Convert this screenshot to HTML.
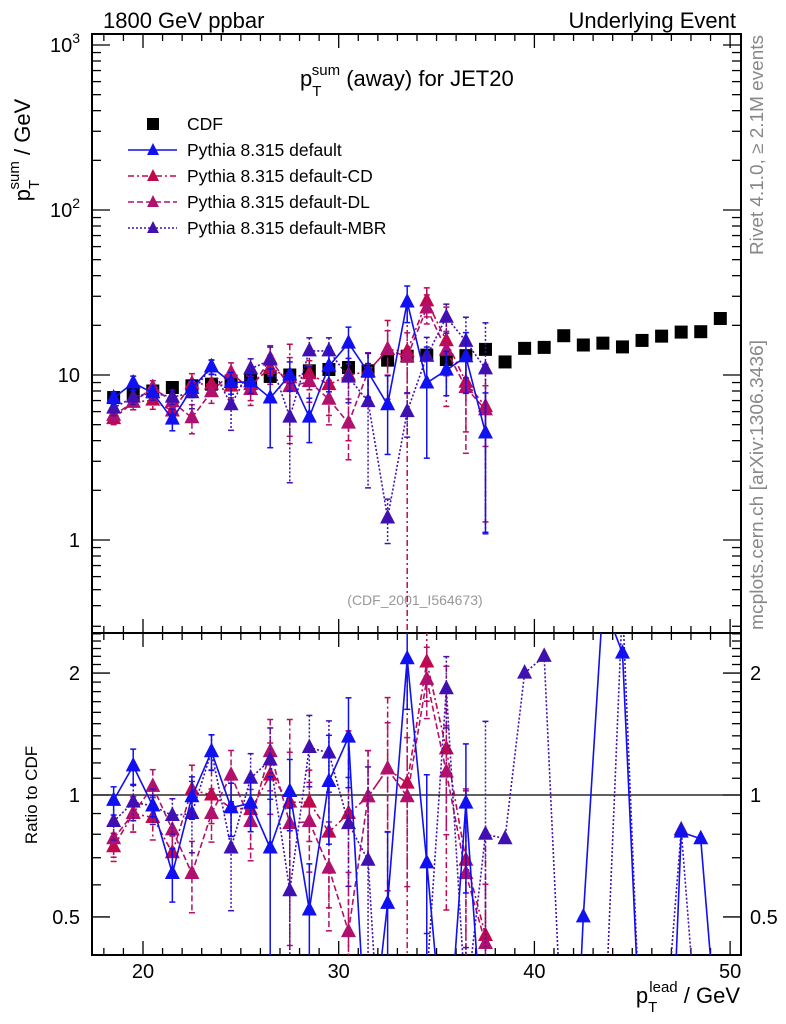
<!DOCTYPE html>
<html><head><meta charset="utf-8"><style>
html,body{margin:0;background:#fff;overflow:hidden;width:786px;height:1024px;}
svg{display:block;font-family:"Liberation Sans",sans-serif;}
</style></head><body>
<svg id="chart" width="786" height="1024" viewBox="0 0 786 1024" xmlns="http://www.w3.org/2000/svg">
<defs>
<clipPath id="clipTop"><rect x="92" y="34" width="649" height="599"/></clipPath>
<clipPath id="clipBot"><rect x="92" y="633" width="649" height="322"/></clipPath>
</defs>
<text x="103" y="28" font-size="22">1800 GeV ppbar</text>
<text x="736" y="28" font-size="22" text-anchor="end">Underlying Event</text>
<text x="300" y="86" font-size="22">p<tspan dy="10" font-size="15">T</tspan><tspan dx="-8" dy="-21" font-size="15">sum</tspan><tspan dy="11"> (away) for JET20</tspan></text>
<text transform="translate(30,150) rotate(-90)" font-size="22" text-anchor="middle">p<tspan dy="9" font-size="15">T</tspan><tspan dx="-8" dy="-20" font-size="15">sum</tspan><tspan dy="11"> / GeV</tspan></text>
<text transform="translate(37,795) rotate(-90)" font-size="17" text-anchor="middle">Ratio to CDF</text>
<text x="740" y="1003" font-size="22" text-anchor="end">p<tspan dy="9" font-size="15">T</tspan><tspan dx="-8" dy="-20" font-size="15">lead</tspan><tspan dy="11"> / GeV</tspan></text>
<text transform="translate(763,255) rotate(-90)" font-size="18" fill="#888" textLength="220" lengthAdjust="spacingAndGlyphs">Rivet 4.1.0, ≥ 2.1M events</text>
<text transform="translate(763,630) rotate(-90)" font-size="18" fill="#888" textLength="290" lengthAdjust="spacingAndGlyphs">mcplots.cern.ch [arXiv:1306.3436]</text>
<text x="415" y="605" font-size="14" fill="#999" text-anchor="middle">(CDF_2001_I564673)</text>
<g id="axes"></g>
<g id="topMarks" clip-path="url(#clipTop)"></g>
<g id="botMarks" clip-path="url(#clipBot)"></g>
<g id="legend"></g>
</svg>
<script>
const xBins=[18.5,19.5,20.5,21.5,22.5,23.5,24.5,25.5,26.5,27.5,28.5,29.5,30.5,31.5,32.5,33.5,34.5,35.5,36.5,37.5,38.5,39.5,40.5,41.5,42.5,43.5,44.5,45.5,46.5,47.5,48.5,49.5];
const cdfValues=[7.3,7.6,8.0,8.4,8.6,8.8,9.2,9.5,9.8,10.0,10.6,10.8,11.1,10.6,12.3,13.0,13.2,12.4,13.1,14.3,12.0,14.5,14.7,17.3,15.2,15.6,14.8,16.2,17.2,18.2,18.3,22.0];
const defaultTop=[7.25,8.95,7.8,5.4,8.3,11.2,9.0,9.1,7.25,10.0,5.56,11.3,15.6,10.4,6.6,27.7,8.95,10.7,12.9,4.45];
const mbrTop=[6.3,7.35,7.8,7.35,7.8,11.2,6.6,10.9,12.3,5.56,14.0,14.0,9.7,6.9,1.36,6.0,13.0,22.4,16.0,10.9];
const cdRatio=[0.745,0.9,0.88,0.72,1.03,1.0,0.93,0.92,1.12,0.96,0.96,0.81,0.90,0.99,1.16,1.07,2.13,1.3,0.69,0.45];
const dlRatio=[0.78,0.9,1.05,0.82,0.64,0.9,1.12,0.86,1.28,0.85,0.86,0.66,0.46,0.99,1.16,0.99,1.93,1.14,0.64,0.43];
const defaultRatio=[0.97,1.18,0.94,0.64,0.99,1.28,0.93,0.955,0.74,1.02,0.52,1.08,1.39,0.2,0.54,2.17,0.68,0.2,0.955,0.2,0.05,0.05,0.05,0.05,0.5,3.0,2.24,0.2,0.05,0.81,0.78,0.2];
const mbrRatio=[0.86,0.96,0.94,0.89,0.9,1.28,0.74,1.1,1.22,0.58,1.31,1.27,0.85,0.69,0.11,0.2,0.35,1.83,0.3,0.8,0.78,2.0,2.2,0.2,0.2,0.2,3.0,0.2,0.2,0.82,0.2,null];
const defaultErr=[0.08,0.1,0.06,0.15,0.12,0.1,0.15,0.15,0.5,0.2,0.3,0.3,0.25,0.3,0.5,0.25,0.65,0.3,0.4,0.75];
const cdErr=[0.08,0.1,0.12,0.1,0.15,0.15,0.15,0.2,0.2,0.6,0.2,0.35,0.6,0.3,0.5,0.99,0.2,0.6,0.5,0.8];
const dlErr=[0.1,0.1,0.1,0.1,0.2,0.15,0.15,0.2,0.2,0.5,0.25,0.3,0.4,0.3,0.3,0.4,0.2,0.3,0.6,0.4];
const mbrErr=[0.1,0.1,0.1,0.1,0.2,0.1,0.3,0.15,0.2,0.6,0.2,0.2,0.3,0.7,0.3,0.3,0.3,0.2,0.4,0.9];
const xTickLabels=[20,30,40,50];
const yTickLabels=["1","10","10²","10³"];
const ratioTickLabels=[0.5,1,2];

const NS="http://www.w3.org/2000/svg";
const L=92,R=741,T=34,M=633,B=955;
function xs(v){return 143+(v-20)*19.57;}
function ys(v){return 540-Math.log10(v)*165;}
function yr(v){return 795-Math.log10(v)*405;}
function mk(tag,attrs,parent){const e=document.createElementNS(NS,tag);for(const k in attrs)e.setAttribute(k,attrs[k]);parent.appendChild(e);return e;}
const axes=document.getElementById('axes');
const topG=document.getElementById('topMarks');
const botG=document.getElementById('botMarks');
const legG=document.getElementById('legend');

let f1=mk('rect',{x:L,y:T,width:R-L,height:M-T,fill:'none',stroke:'#000','stroke-width':2},axes);


let f2=mk('rect',{x:L,y:M,width:R-L,height:B-M,fill:'none',stroke:'#000','stroke-width':2},axes);


for(let v=18;v<=50;v++){
  const x=xs(v),big=(v%10===0);const len=big?14:7;
  for(const [y0,d] of [[T,1],[M,-1],[M,1],[B,-1]]){
    mk('line',{x1:x,x2:x,y1:y0,y2:y0+d*len,stroke:'#000','stroke-width':1.3},axes);
  }
}
xTickLabels.forEach(v=>{
  const t=mk('text',{x:xs(v),y:978,'font-size':20,'text-anchor':'middle'},axes);t.textContent=v;
  
  
});
for(let d=-1;d<=3;d++){for(let m=1;m<=9;m++){
  const v=m*Math.pow(10,d);const y=ys(v);if(y<T||y>M)continue;
  const len=m===1?18:9;
  mk('line',{x1:L,x2:L+len,y1:y,y2:y,stroke:'#000','stroke-width':1.3},axes);
  mk('line',{x1:R,x2:R-len,y1:y,y2:y,stroke:'#000','stroke-width':1.3},axes);
}}
yTickLabels.forEach((s,i)=>{
  const y=ys(Math.pow(10,i))+7;
  const t=mk('text',{x:80,y:y,'font-size':20,'text-anchor':'end'},axes);
  if(i>=2){t.textContent='10';const sp=mk('tspan',{dy:-9,'font-size':14},t);sp.textContent=String(i);}else t.textContent=s;
  
  
});
[0.4,0.5,0.6,0.7,0.8,0.9,1,1.1,1.2,1.3,1.4,1.5,1.6,1.7,1.8,1.9,2,2.1,2.2,2.3,2.4,2.5].forEach(v=>{
  const y=yr(v);if(y<M||y>B)return;const big=[0.5,1,2].includes(v);const len=big?18:9;
  mk('line',{x1:L,x2:L+len,y1:y,y2:y,stroke:'#000','stroke-width':1.3},axes);
  mk('line',{x1:R,x2:R-len,y1:y,y2:y,stroke:'#000','stroke-width':1.3},axes);
});
ratioTickLabels.forEach(v=>{
  const y=yr(v)+7;
  let t=mk('text',{x:80,y:y,'font-size':20,'text-anchor':'end'},axes);t.textContent=v;
  
  
  t=mk('text',{x:750,y:y,'font-size':20},axes);t.textContent=v;
  
  
});
let unity=mk('line',{x1:L,x2:R,y1:yr(1),y2:yr(1),stroke:'#000','stroke-width':1.3},axes);



function tri(g,x,y,c,name){
  const p=mk('polygon',{points:`${x},${y-9} ${x-7.5},${y+5.5} ${x+7.5},${y+5.5}`,fill:c},g);
  
  
}
// clip a segment to y range [lo,hi]
function clipSeg(x1,y1,x2,y2,lo,hi){
  let t0=0,t1=1;const dy=y2-y1;
  if(dy===0){if(y1<lo||y1>hi)return null;}
  else{
    let ta=(lo-y1)/dy,tb=(hi-y1)/dy;if(ta>tb){const t=ta;ta=tb;tb=t;}
    t0=Math.max(t0,ta);t1=Math.min(t1,tb);if(t0>t1)return null;
  }
  return [x1+(x2-x1)*t0,y1+dy*t0,x1+(x2-x1)*t1,y1+dy*t1];
}
function series(g,vals,errs,yfn,lo,hi,color,dash,name){
  let pts=[];
  vals.forEach((v,i)=>{if(v==null)return;pts.push([xs(xBins[i]),yfn(v)]);});
  let d='';
  for(let k=0;k+1<pts.length;k++){
    const s=clipSeg(pts[k][0],pts[k][1],pts[k+1][0],pts[k+1][1],lo-10,hi+10);
    if(s)d+=`M${s[0].toFixed(1)},${s[1].toFixed(1)}L${s[2].toFixed(1)},${s[3].toFixed(1)}`;
  }
  const pl=mk('path',{d:d||'M0,0',fill:'none',stroke:color,'stroke-width':1.6,'stroke-dasharray':dash},g);
  
  
  const cl=y=>Math.min(hi+10,Math.max(lo-10,y));
  vals.forEach((v,i)=>{
    if(v==null)return;const x=xs(xBins[i]);const y=yfn(v);
    if(errs&&errs[i]!=null){
      const e=errs[i];const y1=cl(yfn(v*(1+e))),y2=cl(yfn(Math.max(v*(1-e),1e-4)));
      if(!(y1>=hi+10||y2<=lo-10)){
        const eb=mk('line',{x1:x,x2:x,y1:y1,y2:y2,stroke:color,'stroke-width':1.5,'stroke-dasharray':dash},g);
        
        
        mk('line',{x1:x-3,x2:x+3,y1:y1,y2:y1,stroke:color,'stroke-width':1.5},g);
        mk('line',{x1:x-3,x2:x+3,y1:y2,y2:y2,stroke:color,'stroke-width':1.5},g);
      }
    }
    if(y>lo-10&&y<hi+10)tri(g,x,y,color,name+'-point');
  });
}
const C_BLUE='#1010f0',C_CD='#c0084a',C_DL='#b0106e',C_MBR='#4010b0';
const cdTop=cdRatio.map((r,i)=>r*cdfValues[i]);
const dlTop=dlRatio.map((r,i)=>r*cdfValues[i]);
cdfValues.forEach((v,i)=>{
  const s=mk('rect',{x:xs(xBins[i])-6.5,y:ys(v)-6.5,width:13,height:13,fill:'#000'},topG);
  
  
});
series(topG,cdTop,cdErr,ys,T,M,C_CD,'6 3 2 3','cd');
series(topG,dlTop,dlErr,ys,T,M,C_DL,'6 3','dl');
series(topG,mbrTop,mbrErr,ys,T,M,C_MBR,'2 2','mbr');
series(topG,defaultTop,defaultErr,ys,T,M,C_BLUE,'none','default');
series(botG,cdRatio,cdErr,yr,M,B,C_CD,'6 3 2 3','cd-ratio');
series(botG,dlRatio,dlErr,yr,M,B,C_DL,'6 3','dl-ratio');
series(botG,mbrRatio,mbrErr.concat(Array(12).fill(null)),yr,M,B,C_MBR,'2 2','mbr-ratio');
series(botG,defaultRatio,defaultErr.concat(Array(12).fill(null)),yr,M,B,C_BLUE,'none','default-ratio');

const legItems=[['CDF',null,null],['Pythia 8.315 default',C_BLUE,'none'],['Pythia 8.315 default-CD',C_CD,'6 3 2 3'],['Pythia 8.315 default-DL',C_DL,'6 3'],['Pythia 8.315 default-MBR',C_MBR,'2 2']];
legItems.forEach((it,i)=>{
  const y=124+i*26;
  const g=mk('g',{},legG);
  
  
  if(!it[1]){mk('rect',{x:147,y:y-6,width:12,height:12,fill:'#000'},g);}
  else{mk('line',{x1:128,x2:177,y1:y,y2:y,stroke:it[1],'stroke-width':1.6,'stroke-dasharray':it[2]},g);
    mk('polygon',{points:`153,${y-7} 147,${y+5} 159,${y+5}`,fill:it[1]},g);}
  const t=mk('text',{x:187,y:y+6,'font-size':17.5},g);t.textContent=it[0];
});
</script>
</body></html>
